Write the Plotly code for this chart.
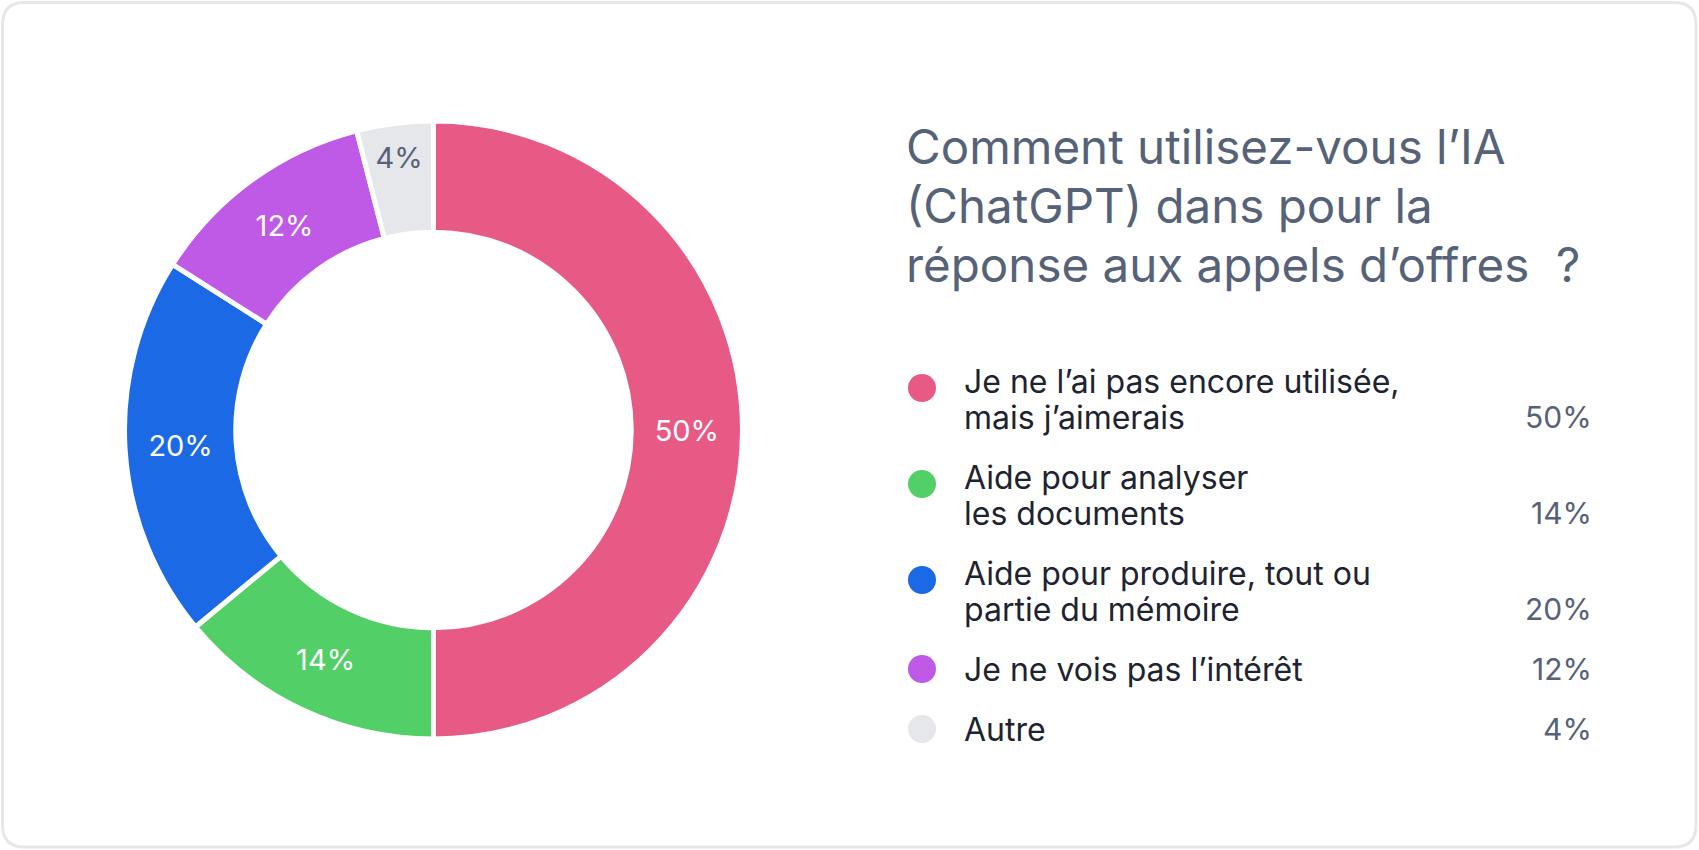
import plotly.graph_objects as go

# ---------------- data ----------------
labels = [
    "Je ne l’ai pas encore utilisée,<br>mais j’aimerais",
    "Aide pour analyser<br>les documents",
    "Aide pour produire, tout ou<br>partie du mémoire",
    "Je ne vois pas l’intérêt",
    "Autre",
]
values = [50, 14, 20, 12, 4]
colors = ["#E85A86", "#52CF66", "#1B69E5", "#BE5AE6", "#E6E7EB"]
slice_text_colors = ["#FFFFFF", "#FFFFFF", "#FFFFFF", "#FFFFFF", "#566278"]
title_text = "Comment utilisez-vous l’IA<br>(ChatGPT) dans pour la<br>réponse aux appels d’offres\u00a0\u00a0?"

# ---------------- layout constants (pixels) ----------------
W, H = 1699, 850
FONT = "Inter"
TITLE_COLOR = "#566278"
LABEL_COLOR = "#1E2330"
PCT_COLOR = "#566278"

fig = go.Figure()

fig.add_trace(go.Pie(
    labels=labels,
    values=values,
    sort=False,
    direction="clockwise",
    rotation=0,
    hole=0.64,
    marker=dict(colors=colors, line=dict(color="white", width=5)),
    textinfo="percent",
    textposition="inside",
    insidetextorientation="horizontal",
    textfont=dict(family=FONT, size=29, color=slice_text_colors),
    domain=dict(x=[124.5 / W, 742.5 / W], y=[111 / H, 729 / H]),
    showlegend=False,
    hoverinfo="label+percent",
))

annotations = []

# title lines
title_x, title_y0, title_dy = 904, 146, 59
for i, ln in enumerate(title_text.split("<br>")):
    annotations.append(dict(
        x=title_x, y=title_y0 + i * title_dy, xref="x", yref="y",
        text=ln, showarrow=False, xanchor="left", yanchor="middle",
        font=dict(family=FONT, size=47.5, color=TITLE_COLOR),
    ))

# custom legend
dot_x, text_x, pct_x = 922, 962, 1594
line_h, item_gap = 36, 60
y = 381
dot_xs, dot_ys = [], []
for lab, val in zip(labels, values):
    lines = lab.split("<br>")
    for i, ln in enumerate(lines):
        annotations.append(dict(
            x=text_x, y=y + i * line_h, xref="x", yref="y",
            text=ln, showarrow=False, xanchor="left", yanchor="middle",
            font=dict(family=FONT, size=32, color=LABEL_COLOR),
        ))
    annotations.append(dict(
        x=pct_x, y=y + (len(lines) - 1) * line_h, xref="x", yref="y",
        text=f"{val}%", showarrow=False, xanchor="right", yanchor="middle",
        font=dict(family=FONT, size=30, color=PCT_COLOR),
    ))
    dot_xs.append(dot_x)
    dot_ys.append(y + (7 if len(lines) > 1 else 0))
    y += (len(lines) - 1) * line_h + item_gap

fig.add_trace(go.Scatter(
    x=dot_xs, y=dot_ys, mode="markers",
    marker=dict(size=28, color=colors, line=dict(width=0)),
    showlegend=False, hoverinfo="skip",
))

# card border (rounded rectangle)
x0, y0, x1, y1, rr = 2.5, 2.5, 1696, 847, 22
path = (f"M {x0+rr},{y0} L {x1-rr},{y0} Q {x1},{y0} {x1},{y0+rr} "
        f"L {x1},{y1-rr} Q {x1},{y1} {x1-rr},{y1} L {x0+rr},{y1} "
        f"Q {x0},{y1} {x0},{y1-rr} L {x0},{y0+rr} Q {x0},{y0} {x0+rr},{y0} Z")

fig.update_layout(
    width=W, height=H,
    margin=dict(l=0, r=0, t=0, b=0, pad=0),
    paper_bgcolor="white", plot_bgcolor="white",
    xaxis=dict(range=[0, W], visible=False, fixedrange=True),
    yaxis=dict(range=[H, 0], visible=False, fixedrange=True),
    annotations=annotations,
    shapes=[dict(type="path", path=path, xref="x", yref="y",
                 line=dict(color="#E5E7EB", width=3), fillcolor="rgba(0,0,0,0)", layer="below")],
    font=dict(family=FONT),
    showlegend=False,
)

fig.write_html("out.html")
